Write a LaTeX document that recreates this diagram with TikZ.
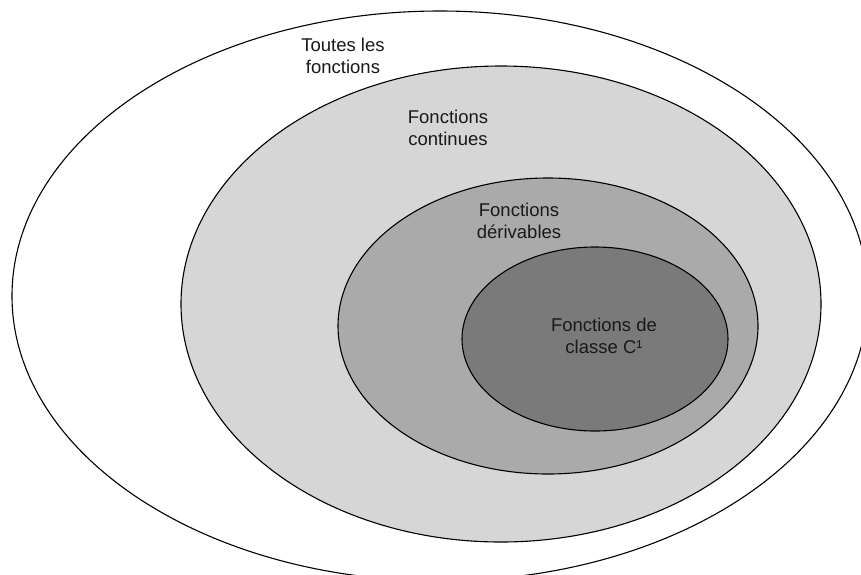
\documentclass[tikz,border=0pt]{standalone}
\usepackage{fontspec}
\setmainfont{Liberation Sans}
\begin{document}
\begin{tikzpicture}[x=1pt,y=-1pt,
  setshape/.style={draw=black,line width=1.1pt},
  lbl/.style={align=center,text=black!90,font=\fontsize{18.5}{22.5}\selectfont,inner sep=0pt}]
\useasboundingbox (0,0) rectangle (861,574);
\clip (0,0) rectangle (861,574);
\fill[white] (0,0) rectangle (861,574);
\path[setshape,fill=white] (440,296) ellipse [x radius=428,y radius=285];
\path[setshape,fill={rgb,255:red,214;green,214;blue,214}] (501,304) ellipse [x radius=320,y radius=238];
\path[setshape,fill={rgb,255:red,170;green,170;blue,170}] (548,326) ellipse [x radius=210,y radius=148];
\path[setshape,fill={rgb,255:red,122;green,122;blue,122}] (595,339) ellipse [x radius=133,y radius=92];
\node[lbl] (all) at (343,56) {Toutes les\\fonctions};
\node[lbl] (cont) at (448,128) {Fonctions\\continues};
\node[lbl] (deriv) at (519,221) {Fonctions\\dérivables};
\node[lbl] (cone) at (604,336) {Fonctions de\\classe C¹};
\end{tikzpicture}
\end{document}
